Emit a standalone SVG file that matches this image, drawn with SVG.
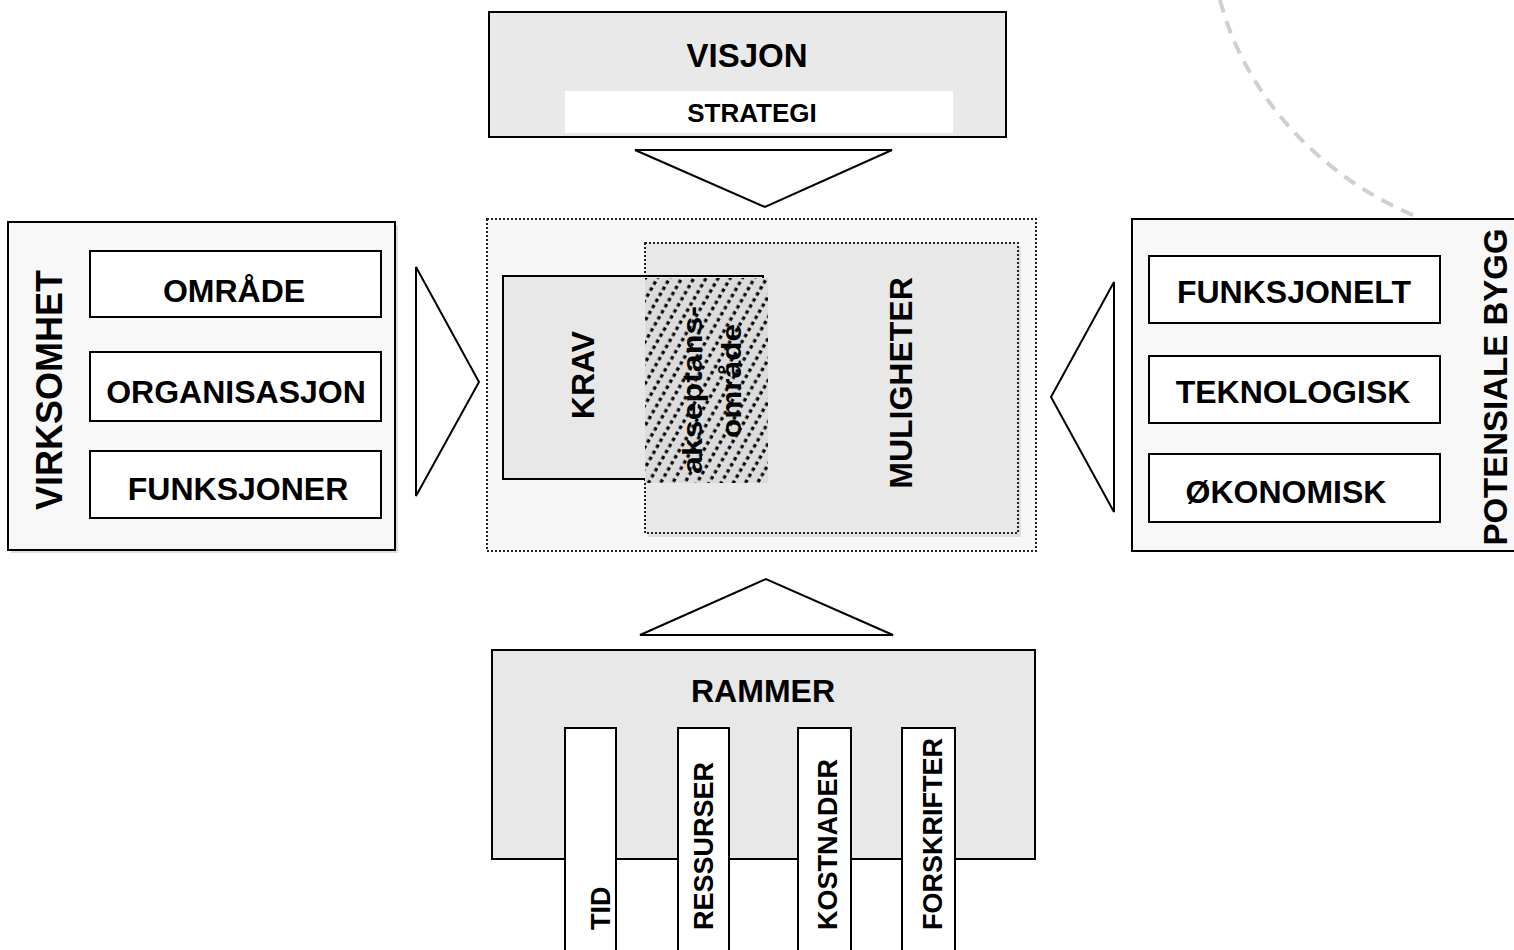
<svg xmlns="http://www.w3.org/2000/svg" width="1514" height="950" viewBox="0 0 1514 950">
<style>
text{font-family:"Liberation Sans",Arial,sans-serif;font-weight:bold;fill:#000}
.box{stroke:#000;stroke-width:2}
.sub{fill:#fff;stroke:#000;stroke-width:2}
.dot{stroke:#222;stroke-width:2;stroke-dasharray:2 2}
.tri{fill:#fff;stroke:#000;stroke-width:2;stroke-linejoin:miter}
.shadow{fill:#dedede}
</style>
<defs>
<pattern id="hatch" patternUnits="userSpaceOnUse" width="10.5" height="14" patternTransform="rotate(30)">
<rect width="10.5" height="14" fill="#dcdcdc"/>
<line x1="5" y1="0" x2="5" y2="14" stroke="#000" stroke-width="3.2" stroke-dasharray="3.5 3.5"/>
</pattern>
</defs>
<rect width="1514" height="950" fill="#fff"/>

<path id="arc" d="M1220,0 C1248,105 1330,182 1420,218" fill="none" stroke="#cfcfcf" stroke-width="4" stroke-dasharray="13 9"/>

<g id="visjon">
<rect x="489" y="12" width="517" height="125" fill="#e9e9e9" class="box"/>
<text x="747" y="67" font-size="33" text-anchor="middle">VISJON</text>
<rect x="565" y="91" width="388" height="42" fill="#fff"/>
<text x="752" y="122" font-size="26" text-anchor="middle">STRATEGI</text>
</g>

<g id="sentrum">
<rect x="487" y="219" width="549" height="332" fill="#f7f7f7" class="dot"/>
<rect x="648" y="246" width="373" height="291" class="shadow"/>
<g id="muligheter">
<rect x="645" y="243" width="373" height="290" fill="#e8e8e8" class="dot"/>
<text transform="translate(912,383) rotate(-90)" font-size="32" text-anchor="middle">MULIGHETER</text>
</g>
<g id="krav">
<rect x="503" y="276" width="260" height="203" fill="#e8e8e8" class="box"/>
<text transform="translate(594,375) rotate(-90)" font-size="32" text-anchor="middle">KRAV</text>
</g>
<g id="akseptansomrade">
<rect x="645" y="278" width="123" height="205" fill="url(#hatch)"/>
<text transform="translate(702,390) rotate(-90)" font-size="27" text-anchor="middle" textLength="168" lengthAdjust="spacingAndGlyphs">akseptans-</text>
<text transform="translate(741,381) rotate(-90)" font-size="27" text-anchor="middle" textLength="114" lengthAdjust="spacingAndGlyphs">område</text>
</g>
</g>

<g id="virksomhet">
<rect x="11" y="225" width="387" height="328" class="shadow"/>
<rect x="8" y="222" width="387" height="328" fill="#f8f8f8" class="box"/>
<text transform="translate(62,390) rotate(-90)" font-size="36" text-anchor="middle">VIRKSOMHET</text>
<g id="omrade"><rect x="90" y="251" width="291" height="66" class="sub"/>
<text x="234" y="302" font-size="32" text-anchor="middle">OMRÅDE</text></g>
<g id="organisasjon"><rect x="90" y="352" width="291" height="69" class="sub"/>
<text x="236" y="403" font-size="32" text-anchor="middle">ORGANISASJON</text></g>
<g id="funksjoner"><rect x="90" y="451" width="291" height="67" class="sub"/>
<text x="238" y="500" font-size="32" text-anchor="middle">FUNKSJONER</text></g>
</g>

<g id="potensiale">
<rect x="1132" y="219" width="400" height="332" fill="#f8f8f8" class="box"/>
<text transform="translate(1507,387) rotate(-90)" font-size="33" text-anchor="middle">POTENSIALE BYGG</text>
<g id="funksjonelt"><rect x="1149" y="256" width="291" height="67" class="sub"/>
<text x="1294" y="303" font-size="32" text-anchor="middle">FUNKSJONELT</text></g>
<g id="teknologisk"><rect x="1149" y="356" width="291" height="67" class="sub"/>
<text x="1293" y="403" font-size="32" text-anchor="middle">TEKNOLOGISK</text></g>
<g id="okonomisk"><rect x="1149" y="454" width="291" height="68" class="sub"/>
<text x="1286" y="503" font-size="32" text-anchor="middle">ØKONOMISK</text></g>
</g>

<g id="rammer">
<rect x="492" y="650" width="543" height="209" fill="#e8e8e8" class="box"/>
<text x="763" y="702" font-size="32" text-anchor="middle">RAMMER</text>
<g id="tid"><rect x="565" y="728" width="51" height="240" class="sub"/>
<text transform="translate(610,930) rotate(-90)" font-size="27">TID</text></g>
<g id="ressurser"><rect x="678" y="728" width="51" height="240" class="sub"/>
<text transform="translate(713,930) rotate(-90)" font-size="27">RESSURSER</text></g>
<g id="kostnader"><rect x="798" y="728" width="53" height="240" class="sub"/>
<text transform="translate(837,930) rotate(-90)" font-size="27">KOSTNADER</text></g>
<g id="forskrifter"><rect x="902" y="728" width="53" height="240" class="sub"/>
<text transform="translate(942,930) rotate(-90)" font-size="27">FORSKRIFTER</text></g>
</g>

<g id="connectors">
<polygon class="tri" points="635,150 892,150 765,207"/>
<polygon class="tri" points="640,635 893,635 766,579"/>
<polygon class="tri" points="416,267 416,496 479,382"/>
<polygon class="tri" points="1114,282 1114,512 1051,397"/>
</g>
</svg>
